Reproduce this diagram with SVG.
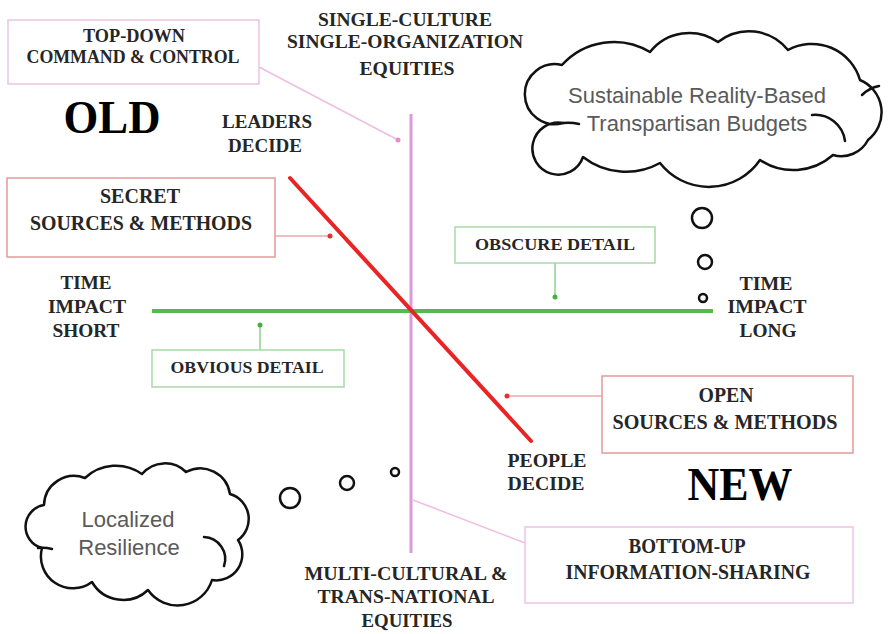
<svg xmlns="http://www.w3.org/2000/svg" width="888" height="634" viewBox="0 0 888 634">
<style>
.t{font-family:"Liberation Serif","Times New Roman",serif;font-weight:bold;fill:#262626;text-anchor:middle;font-size:19.5px}
.b20{font-size:20px}
.b18{font-size:18px}
.b17{font-size:16.5px}
.big{font-family:"Liberation Serif","Times New Roman",serif;font-weight:bold;fill:#000;text-anchor:middle;font-size:46px}
.c{font-family:"Liberation Sans",Arial,sans-serif;fill:#5a5a5a;text-anchor:middle;font-size:22px}
.box{fill:#fff;stroke-width:1.5}
.pink{stroke:#edc3e3}
.red{stroke:#e49a9a}
.grn{stroke:#a8daa6}
.cloud{fill:#fff;stroke:#111;stroke-width:2.5;stroke-linejoin:round}
.curl{fill:none;stroke:#111;stroke-width:2.5;stroke-linecap:round}
.bub{fill:#fff;stroke:#111;stroke-width:2.5}
</style>
<rect width="888" height="634" fill="#fff"/>
<g id="axes">
<line x1="411" y1="114" x2="411" y2="553" stroke="#dc9ad8" stroke-width="3"/>
<line x1="152" y1="311" x2="713" y2="311" stroke="#55b94f" stroke-width="4"/>
<line x1="290" y1="178" x2="531" y2="441" stroke="#ea2424" stroke-width="4" stroke-linecap="round"/>
</g>
<g id="connectors" fill="none" stroke-width="1.5">
<line x1="259" y1="67" x2="398" y2="140" stroke="#f0bde2"/>
<circle cx="398" cy="140" r="2.5" fill="#e88ccc" stroke="none"/>
<line x1="275" y1="236" x2="330" y2="236" stroke="#eaa8a8"/>
<circle cx="330" cy="236" r="2.5" fill="#e43030" stroke="none"/>
<line x1="260" y1="350" x2="260" y2="325" stroke="#8fd08c"/>
<circle cx="260" cy="325" r="2.5" fill="#45b03f" stroke="none"/>
<line x1="555" y1="263" x2="555" y2="297" stroke="#8fd08c"/>
<circle cx="555" cy="297" r="2.5" fill="#45b03f" stroke="none"/>
<line x1="602" y1="396" x2="507" y2="396" stroke="#eaa8a8"/>
<circle cx="507" cy="396" r="2.5" fill="#e43030" stroke="none"/>
<line x1="525" y1="543" x2="413" y2="500" stroke="#f0bde2"/>
</g>
<g id="top-down">
<rect class="box pink" x="8" y="20" width="251" height="64"/>
<text class="t b18" x="134" y="42" textLength="102" lengthAdjust="spacingAndGlyphs">TOP-DOWN</text>
<text class="t b18" x="133" y="63" textLength="213" lengthAdjust="spacingAndGlyphs">COMMAND &amp; CONTROL</text>
</g>
<g id="single-culture">
<text class="t" x="405" y="26" textLength="174" lengthAdjust="spacingAndGlyphs">SINGLE-CULTURE</text>
<text class="t" x="405" y="48" textLength="236" lengthAdjust="spacingAndGlyphs">SINGLE-ORGANIZATION</text>
<text class="t" x="407" y="75" textLength="95" lengthAdjust="spacingAndGlyphs">EQUITIES</text>
</g>
<g id="old"><text class="big" x="112" y="133" textLength="97" lengthAdjust="spacingAndGlyphs">OLD</text></g>
<g id="leaders-decide">
<text class="t" x="267" y="128" textLength="90" lengthAdjust="spacingAndGlyphs">LEADERS</text>
<text class="t" x="265" y="152" textLength="74" lengthAdjust="spacingAndGlyphs">DECIDE</text>
</g>
<g id="secret">
<rect class="box red" x="7" y="178" width="268" height="79"/>
<text class="t b20" x="140" y="203" textLength="80" lengthAdjust="spacingAndGlyphs">SECRET</text>
<text class="t b20" x="141" y="230" textLength="222" lengthAdjust="spacingAndGlyphs">SOURCES &amp; METHODS</text>
</g>
<g id="time-short">
<text class="t" x="86" y="289" textLength="51" lengthAdjust="spacingAndGlyphs">TIME</text>
<text class="t" x="87" y="313" textLength="78" lengthAdjust="spacingAndGlyphs">IMPACT</text>
<text class="t" x="86" y="337" textLength="67" lengthAdjust="spacingAndGlyphs">SHORT</text>
</g>
<g id="obvious">
<rect class="box grn" x="152" y="350" width="192" height="37"/>
<text class="t b17" x="247" y="373" textLength="153" lengthAdjust="spacingAndGlyphs">OBVIOUS DETAIL</text>
</g>
<g id="obscure">
<rect class="box grn" x="455" y="227" width="200" height="36"/>
<text class="t b17" x="555" y="250" textLength="160" lengthAdjust="spacingAndGlyphs">OBSCURE DETAIL</text>
</g>
<g id="time-long">
<text class="t" x="766" y="290" textLength="53" lengthAdjust="spacingAndGlyphs">TIME</text>
<text class="t" x="767" y="313" textLength="79" lengthAdjust="spacingAndGlyphs">IMPACT</text>
<text class="t" x="768" y="337" textLength="57" lengthAdjust="spacingAndGlyphs">LONG</text>
</g>
<g id="open">
<rect class="box red" x="602" y="376" width="251" height="77"/>
<text class="t b20" x="726" y="402" textLength="55" lengthAdjust="spacingAndGlyphs">OPEN</text>
<text class="t b20" x="725" y="429" textLength="225" lengthAdjust="spacingAndGlyphs">SOURCES &amp; METHODS</text>
</g>
<g id="people-decide">
<text class="t" x="547" y="467" textLength="79" lengthAdjust="spacingAndGlyphs">PEOPLE</text>
<text class="t" x="546" y="490" textLength="77" lengthAdjust="spacingAndGlyphs">DECIDE</text>
</g>
<g id="new"><text class="big" x="740" y="500" textLength="105" lengthAdjust="spacingAndGlyphs">NEW</text></g>
<g id="bottom-up">
<rect class="box pink" x="525" y="527" width="328" height="76"/>
<text class="t b20" x="687" y="553" textLength="117" lengthAdjust="spacingAndGlyphs">BOTTOM-UP</text>
<text class="t b20" x="688" y="579" textLength="245" lengthAdjust="spacingAndGlyphs">INFORMATION-SHARING</text>
</g>
<g id="multi-cultural">
<text class="t" x="406" y="580" textLength="203" lengthAdjust="spacingAndGlyphs">MULTI-CULTURAL &amp;</text>
<text class="t" x="406" y="603" textLength="177" lengthAdjust="spacingAndGlyphs">TRANS-NATIONAL</text>
<text class="t" x="407" y="627" textLength="91" lengthAdjust="spacingAndGlyphs">EQUITIES</text>
</g>
<g id="cloud-budgets">
<path class="cloud" d="M563,123 A30,30 0 1 1 562,65 A70,70 0 0 1 650,52 A50,50 0 0 1 718,42 A50,50 0 0 1 788,50 A50,50 0 0 1 860,80 A35,35 0 0 1 868,140 A30,30 0 0 1 833,155 A60,60 0 0 1 760,160 A62,62 0 0 1 660,163 A70,70 0 0 1 583,157 A26,26 0 1 1 563,123 Z"/>
<path class="curl" d="M563,123 Q571,122 579,124"/>
<path class="curl" d="M812,115 A30,30 0 0 1 845,141"/>
<path class="curl" d="M862,95 Q869,88 879,86"/>
<text class="c" x="697" y="103">Sustainable Reality-Based</text>
<text class="c" x="697" y="131">Transpartisan Budgets</text>
<circle class="bub" cx="702" cy="218" r="10"/>
<circle class="bub" cx="705" cy="262" r="7"/>
<circle class="bub" cx="703" cy="298" r="4"/>
</g>
<g id="cloud-resilience">
<path class="cloud" d="M42,548 A22,22 0 0 1 44,505 A30,30 0 0 1 85,478 A45,45 0 0 1 142,474 A30,30 0 0 1 186,472 A30,30 0 0 1 230,494 A26,26 0 0 1 238,540 A26,26 0 0 1 212,580 A36,36 0 0 1 148,590 A36,36 0 0 1 92,582 A32,32 0 0 1 42,548 Z"/>
<path class="curl" d="M38,548 Q45,547 52,549"/>
<path class="curl" d="M204,537 A22,22 0 0 1 224,566"/>
<text class="c" x="128" y="527">Localized</text>
<text class="c" x="129" y="555">Resilience</text>
<circle class="bub" cx="290" cy="498" r="10"/>
<circle class="bub" cx="347" cy="483" r="7"/>
<circle class="bub" cx="395" cy="472" r="4"/>
</g>
</svg>
